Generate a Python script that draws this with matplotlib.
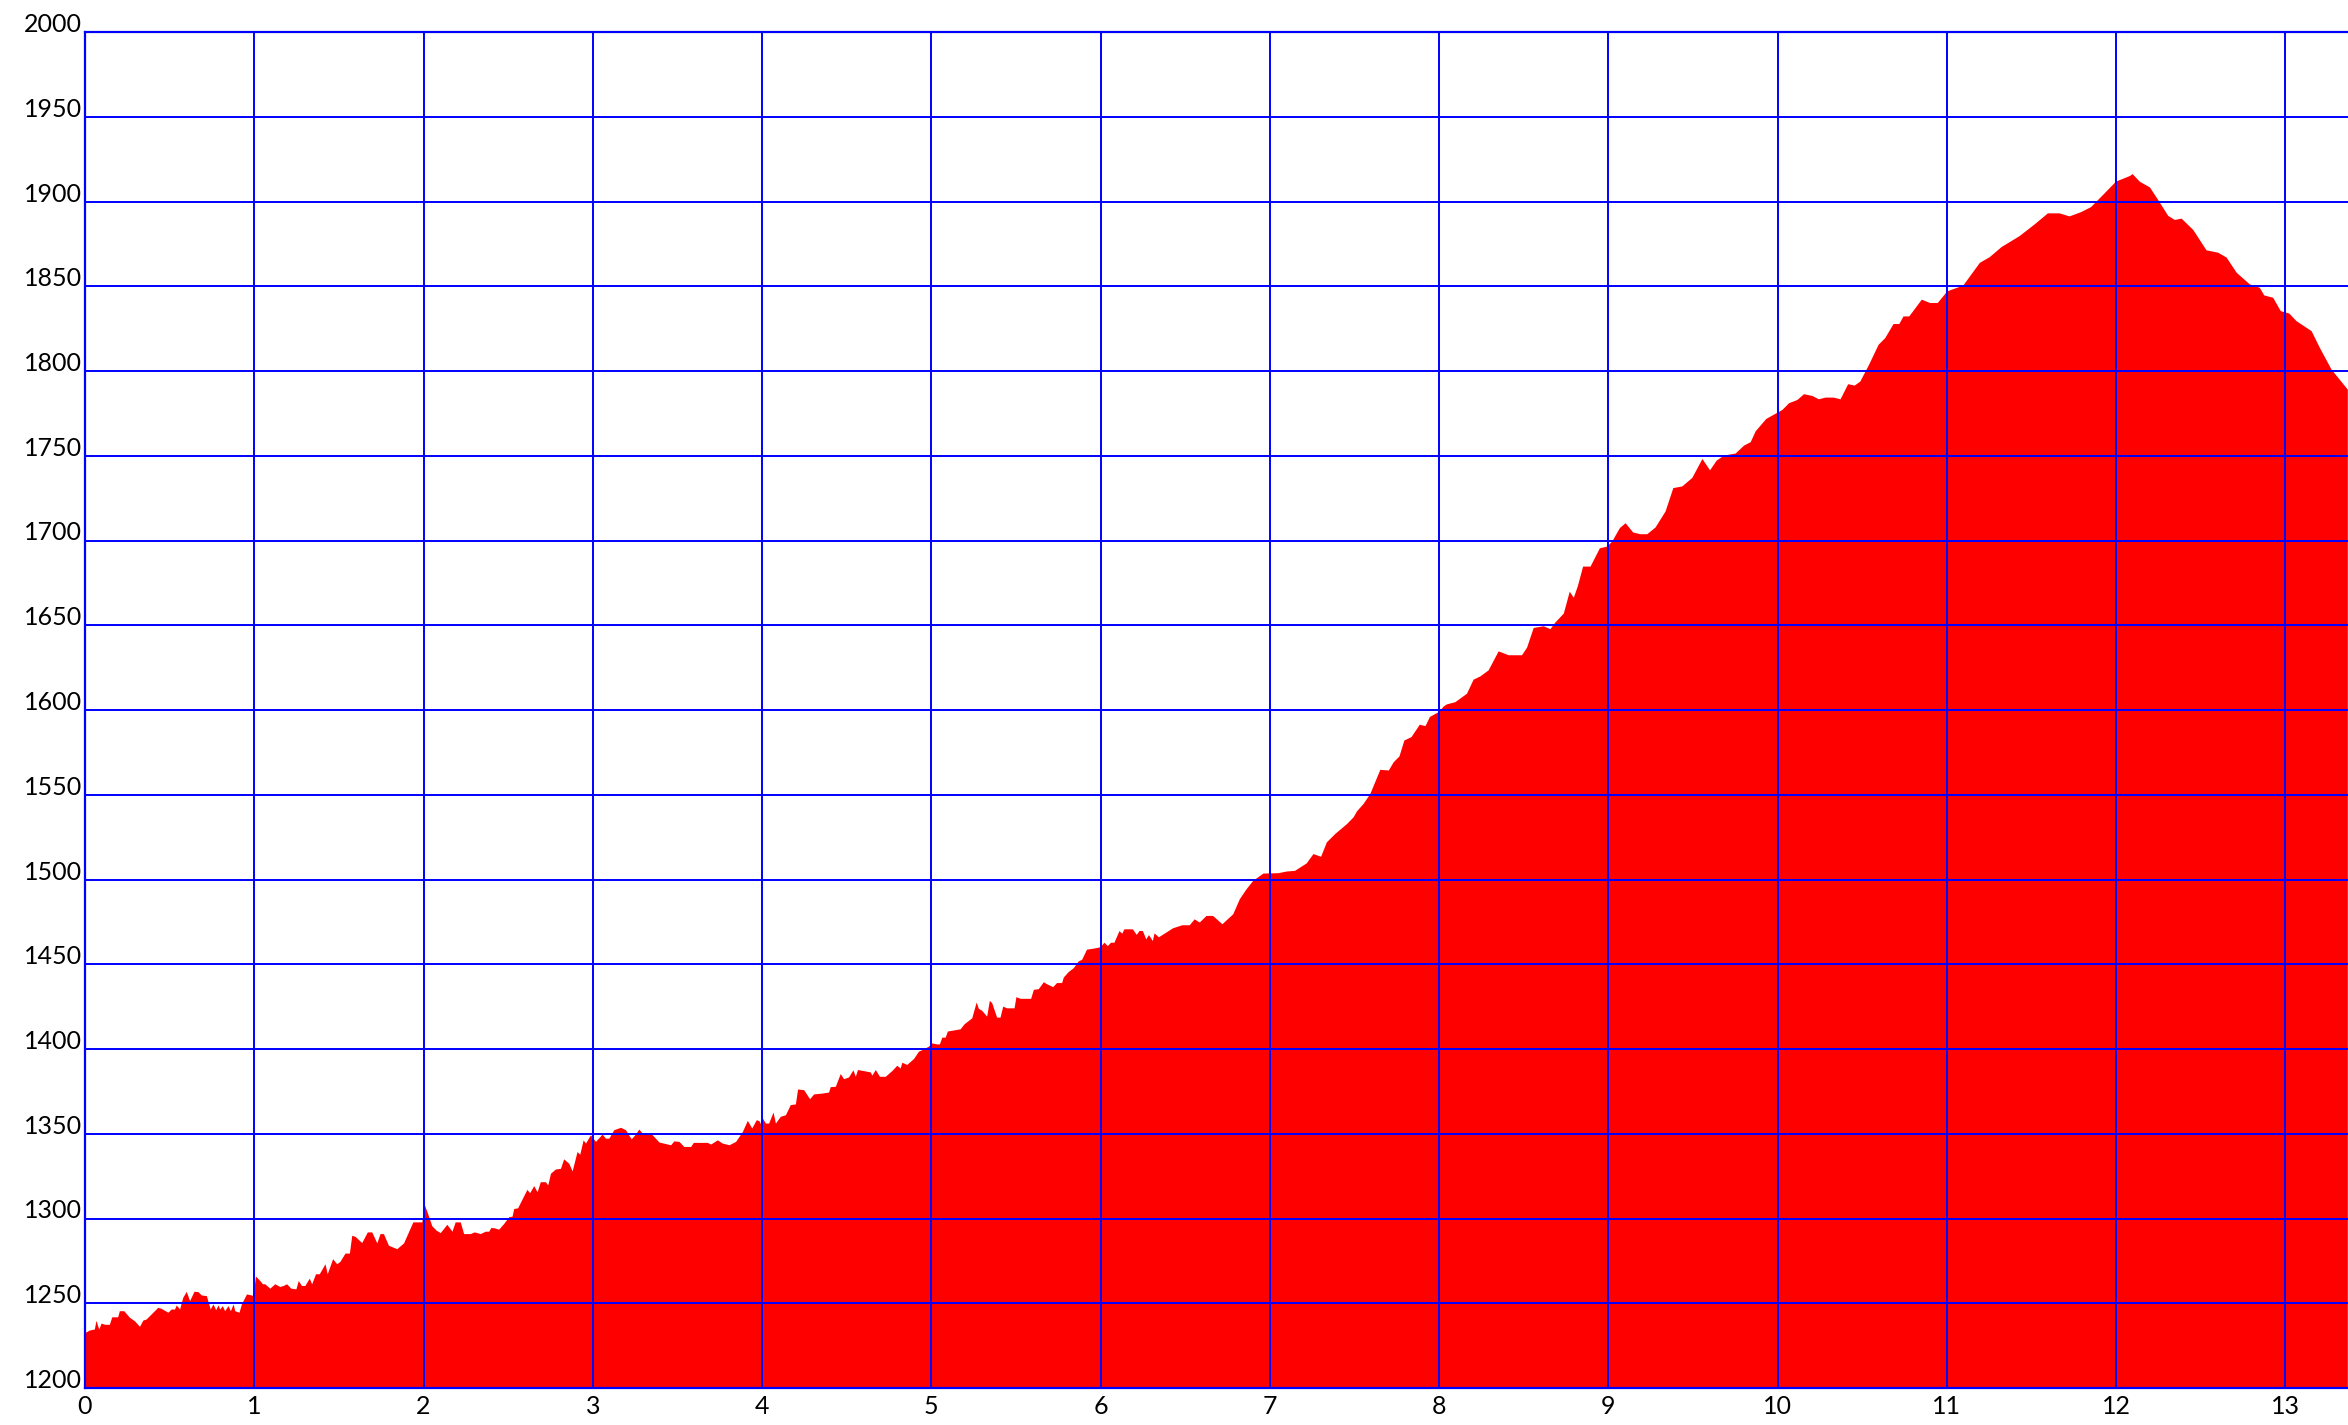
import matplotlib
matplotlib.use("Agg")
import matplotlib.pyplot as plt
from matplotlib.ticker import MultipleLocator

# distance (km) and elevation (m)
distance_km = [
    0.000, 0.026, 0.055, 0.065, 0.081, 0.095, 0.115, 0.144, 0.158, 0.193, 0.203, 0.229, 0.263, 0.292,
    0.322, 0.342, 0.361, 0.391, 0.430, 0.450, 0.490, 0.509, 0.529, 0.539, 0.559, 0.569, 0.578, 0.598,
    0.618, 0.644, 0.667, 0.687, 0.717, 0.740, 0.756, 0.772, 0.786, 0.796, 0.811, 0.825, 0.845, 0.859,
    0.875, 0.885, 0.910, 0.924, 0.954, 0.983, 0.993, 1.007, 1.033, 1.048, 1.062, 1.092, 1.121, 1.151,
    1.171, 1.191, 1.216, 1.246, 1.260, 1.279, 1.299, 1.325, 1.339, 1.362, 1.384, 1.418, 1.431, 1.463,
    1.487, 1.506, 1.536, 1.562, 1.576, 1.595, 1.635, 1.668, 1.694, 1.724, 1.743, 1.763, 1.793, 1.842,
    1.882, 1.937, 1.990, 2.006,
    2.024, 2.049, 2.075, 2.099, 2.138, 2.168, 2.187, 2.217, 2.237, 2.276, 2.300, 2.335, 2.365, 2.385,
    2.398, 2.418, 2.444, 2.473, 2.503, 2.523, 2.533, 2.556, 2.582, 2.611, 2.627, 2.651, 2.671, 2.690,
    2.720, 2.734, 2.750, 2.779, 2.809, 2.828, 2.858, 2.878, 2.907, 2.923, 2.943, 2.957, 2.986, 3.016,
    3.055, 3.075, 3.095, 3.124, 3.164, 3.193, 3.227, 3.252, 3.272, 3.292, 3.341, 3.361, 3.391, 3.460,
    3.479, 3.509, 3.538, 3.578, 3.594, 3.677, 3.696, 3.736, 3.765, 3.805, 3.844, 3.884, 3.913, 3.939,
    3.966, 3.982, 3.992, 4.002,
    4.020, 4.039, 4.065, 4.079, 4.108, 4.138, 4.167, 4.197, 4.210, 4.246, 4.281, 4.305, 4.354, 4.393,
    4.403, 4.433, 4.462, 4.482, 4.511, 4.537, 4.551, 4.564, 4.639, 4.649, 4.669, 4.694, 4.728, 4.767,
    4.796, 4.816, 4.826, 4.855, 4.895, 4.924, 4.954, 4.983, 5.003, 5.032, 5.048, 5.062, 5.082, 5.095,
    5.170, 5.194, 5.239, 5.265, 5.278, 5.298, 5.327, 5.343, 5.357, 5.386, 5.406, 5.422, 5.445, 5.489,
    5.500, 5.524, 5.587, 5.603, 5.632, 5.662, 5.681, 5.717, 5.740, 5.770, 5.780, 5.809, 5.839, 5.868,
    5.888, 5.917, 5.957, 5.996,
    6.020, 6.040, 6.059, 6.079, 6.109, 6.125, 6.138, 6.188, 6.211, 6.227, 6.247, 6.267, 6.283, 6.306,
    6.316, 6.342, 6.425, 6.480, 6.524, 6.553, 6.583, 6.623, 6.662, 6.717, 6.781, 6.820, 6.860, 6.899,
    6.959, 7.047, 7.097, 7.146, 7.215, 7.255, 7.300, 7.334, 7.383, 7.453, 7.492, 7.512, 7.551, 7.591,
    7.650, 7.700, 7.729, 7.763, 7.792, 7.834, 7.883, 7.917, 7.943, 7.996, 8.026,
    8.043, 8.093, 8.162, 8.201, 8.241, 8.290, 8.349, 8.408, 8.487, 8.517, 8.556, 8.615, 8.655, 8.684,
    8.734, 8.769, 8.793, 8.817, 8.848, 8.892, 8.947, 8.990, 9.020, 9.065, 9.099, 9.144, 9.187, 9.227,
    9.276, 9.335, 9.381, 9.434, 9.493, 9.553, 9.598, 9.637, 9.680, 9.749, 9.799, 9.838, 9.868, 9.930,
    10.025, 10.065, 10.114, 10.153, 10.202, 10.241, 10.280, 10.329, 10.369, 10.414, 10.453, 10.486,
    10.539, 10.594, 10.633, 10.682, 10.716, 10.741, 10.775, 10.849, 10.898, 10.943, 11.000, 11.094,
    11.192, 11.251, 11.320, 11.427, 11.516, 11.594, 11.663, 11.722, 11.790, 11.849, 11.927, 11.996,
    12.080, 12.094, 12.138, 12.197, 12.246, 12.305, 12.344, 12.384, 12.453, 12.531, 12.600, 12.650,
    12.709, 12.787, 12.846, 12.872, 12.925, 12.970, 13.020, 13.063, 13.152, 13.201, 13.270, 13.366,
]

elevation_m = [
    1232.8, 1234.2, 1234.8, 1239.9, 1234.8, 1238.3, 1237.6, 1237.6, 1242.0, 1242.0, 1245.6, 1245.6, 1241.7, 1239.7,
    1236.4, 1240.1, 1240.7, 1243.7, 1247.6, 1247.0, 1244.7, 1246.6, 1246.6, 1249.0, 1246.6, 1250.6, 1253.6, 1257.0,
    1251.6, 1257.1, 1256.9, 1254.9, 1254.5, 1246.6, 1249.6, 1246.2, 1249.0, 1246.6, 1248.6, 1245.6, 1248.6, 1245.6,
    1249.6, 1245.6, 1244.7, 1249.6, 1255.5, 1254.9, 1254.5, 1266.1, 1263.4, 1261.5, 1261.5, 1258.9, 1261.5, 1259.9,
    1260.5, 1261.5, 1258.9, 1258.5, 1263.4, 1260.5, 1260.5, 1264.8, 1261.5, 1267.4, 1267.4, 1273.3, 1267.4, 1276.3,
    1273.3, 1274.7, 1279.6, 1279.6, 1290.1, 1289.5, 1285.8, 1292.1, 1292.1, 1285.6, 1291.1, 1291.1, 1284.2, 1282.2,
    1285.6, 1298.0, 1298.0, 1307.9,
    1303.0, 1295.7, 1293.1, 1291.7, 1296.6, 1292.5, 1298.0, 1298.0, 1291.1, 1291.1, 1292.1, 1291.1, 1292.5, 1292.5,
    1294.7, 1294.5, 1293.7, 1297.0, 1301.0, 1301.4, 1305.9, 1306.3, 1311.5, 1317.2, 1315.2, 1319.4, 1315.8, 1321.7,
    1321.7, 1319.8, 1326.7, 1329.2, 1329.6, 1335.2, 1332.6, 1328.1, 1339.5, 1337.9, 1346.4, 1344.5, 1349.4, 1345.5,
    1349.8, 1347.4, 1347.4, 1352.4, 1353.8, 1352.4, 1347.0, 1349.8, 1352.8, 1350.4, 1350.4, 1348.4, 1345.1, 1343.5,
    1345.8, 1345.5, 1342.5, 1342.5, 1344.9, 1344.9, 1343.9, 1346.4, 1344.5, 1343.5, 1345.5, 1351.4, 1357.9, 1353.4,
    1358.3, 1357.7, 1355.7, 1359.3,
    1356.3, 1356.3, 1362.8, 1356.3, 1360.3, 1361.2, 1367.2, 1367.6, 1376.4, 1376.0, 1370.7, 1373.5, 1374.0, 1374.6,
    1377.8, 1378.0, 1385.5, 1382.5, 1383.5, 1387.7, 1383.9, 1387.9, 1386.5, 1384.6, 1387.9, 1383.9, 1383.9, 1387.3,
    1390.4, 1388.8, 1392.2, 1390.9, 1394.4, 1398.7, 1400.1, 1401.7, 1403.6, 1403.0, 1403.0, 1407.0, 1407.0, 1410.6,
    1411.9, 1414.9, 1418.4, 1427.7, 1424.0, 1422.8, 1419.4, 1428.7, 1427.3, 1418.8, 1418.8, 1425.3, 1424.3, 1424.3,
    1430.9, 1429.9, 1429.9, 1435.2, 1435.6, 1439.7, 1438.5, 1436.8, 1439.2, 1439.2, 1442.5, 1445.7, 1448.0, 1452.0,
    1452.9, 1458.9, 1459.5, 1460.3,
    1463.0, 1461.0, 1463.0, 1463.0, 1469.9, 1468.3, 1470.9, 1470.9, 1467.6, 1469.9, 1469.9, 1465.0, 1467.5, 1464.0,
    1468.5, 1466.2, 1471.5, 1473.3, 1473.3, 1476.8, 1474.9, 1478.8, 1478.8, 1473.9, 1479.8, 1488.7, 1494.6, 1499.5,
    1503.8, 1504.0, 1505.0, 1505.4, 1509.8, 1515.3, 1513.7, 1522.2, 1527.1, 1533.0, 1537.0, 1540.5, 1544.9, 1550.8,
    1565.0, 1564.6, 1569.5, 1572.9, 1582.3, 1584.3, 1591.6, 1590.8, 1596.2, 1599.1, 1602.5,
    1603.6, 1604.9, 1609.9, 1618.2, 1620.1, 1623.7, 1634.9, 1632.6, 1632.6, 1637.1, 1648.7, 1649.7, 1648.0, 1651.9,
    1657.2, 1670.1, 1666.5, 1673.4, 1684.9, 1684.9, 1695.7, 1696.7, 1699.7, 1707.6, 1710.5, 1705.0, 1704.0, 1704.0,
    1708.0, 1717.4, 1731.2, 1732.2, 1737.2, 1748.4, 1741.7, 1747.4, 1750.4, 1751.6, 1756.3, 1758.3, 1764.8, 1772.0,
    1777.3, 1781.3, 1783.2, 1786.6, 1785.6, 1783.6, 1784.6, 1784.6, 1783.6, 1792.5, 1791.7, 1794.1,
    1804.3, 1815.8, 1819.7, 1828.0, 1828.0, 1832.5, 1832.5, 1842.4, 1840.4, 1840.4, 1847.3, 1850.7,
    1864.1, 1867.5, 1873.4, 1879.9, 1886.8, 1893.3, 1893.3, 1891.5, 1894.0, 1897.0, 1904.9, 1912.0,
    1915.4, 1916.5, 1911.9, 1908.6, 1901.1, 1891.8, 1889.4, 1890.2, 1883.5, 1871.5, 1870.1, 1867.2,
    1858.3, 1851.4, 1849.4, 1844.9, 1843.5, 1835.6, 1834.2, 1829.7, 1823.8, 1813.9, 1801.1, 1789.3,
]

x_ticks = list(range(0, 14))
y_ticks = list(range(1200, 2001, 50))

W, H, DPI = 2348, 1425, 100
fig = plt.figure(figsize=(W / DPI, H / DPI), dpi=DPI)
fig.patch.set_facecolor("white")
ax = fig.add_axes([85 / W, 1 - 1388 / H, 1 - 85 / W, (1388 - 32) / H])

ax.fill_between(distance_km, 1200, elevation_m, color="#ff0000", linewidth=0, zorder=1)

ax.set_xlim(0, 13.37)
ax.set_ylim(1200, 2000)
ax.set_xticks(x_ticks)
ax.set_yticks(y_ticks)
ax.set_xticklabels([str(v) for v in x_ticks])
ax.set_yticklabels([str(v) for v in y_ticks])

ax.grid(True, color="#0000ff", linewidth=1.4, zorder=3)
ax.set_axisbelow(False)
for side in ("left", "bottom", "top"):
    ax.spines[side].set_color("#0000ff")
    ax.spines[side].set_linewidth(1.6)
    ax.spines[side].set_zorder(4)
ax.spines["right"].set_visible(False)

ax.tick_params(axis="both", length=0, labelsize=18, labelcolor="black")
ax.tick_params(axis="y", pad=2)
ax.tick_params(axis="x", pad=5)
for lab in ax.get_yticklabels():
    lab.set_fontfamily("Lato")
    lab.set_verticalalignment("baseline")
for lab in ax.get_xticklabels():
    lab.set_fontfamily("Lato")

fig.savefig("out.png", dpi=DPI, facecolor="white")
